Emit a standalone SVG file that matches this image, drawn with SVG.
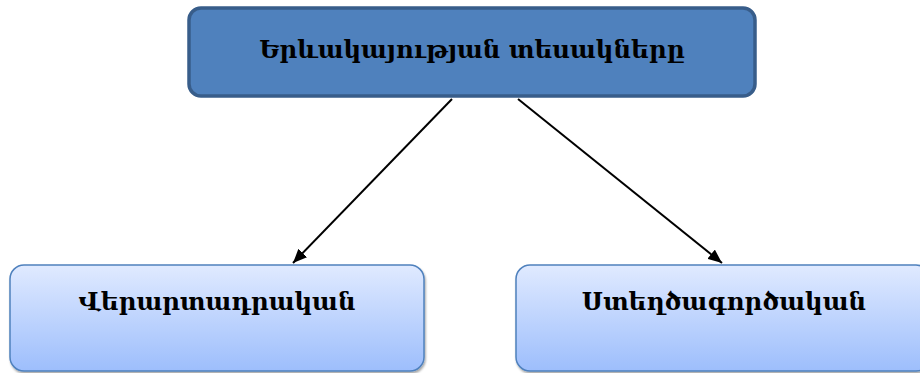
<svg xmlns="http://www.w3.org/2000/svg" width="920" height="373" viewBox="0 0 920 373">
<defs>
<linearGradient id="g" x1="0" y1="0" x2="0" y2="1">
<stop offset="0" stop-color="#E0EAFF"/>
<stop offset="1" stop-color="#9DBEFC"/>
</linearGradient>
<filter id="sh" x="-5%" y="-5%" width="110%" height="115%">
<feDropShadow dx="1" dy="2" stdDeviation="1.2" flood-color="#000" flood-opacity="0.35"/>
</filter>
<marker id="ah" viewBox="0 0 14 12" refX="14" refY="6" markerWidth="14" markerHeight="12" markerUnits="userSpaceOnUse" orient="auto">
<path d="M0,0 L14,6 L0,12 z" fill="#000"/>
</marker>
</defs>
<style>
.lbl{font-family:"DejaVu Serif","Noto Serif",serif;font-size:24.5px;font-weight:bold;fill:#000;text-anchor:middle}
.child{fill:url(#g);stroke:#4F81BD;stroke-width:1.5}
.con{stroke:#000;stroke-width:2;fill:none}
</style>
<g id="connectors">
<line class="con" x1="452" y1="99" x2="293" y2="263" marker-end="url(#ah)"/>
<line class="con" x1="518" y1="99" x2="722" y2="263" marker-end="url(#ah)"/>
</g>
<g id="root">
<rect x="189" y="8" width="566" height="88" rx="12" fill="#4F81BD" stroke="#385D8A" stroke-width="3.5"/>
<text class="lbl" x="472" y="58">Երևակայության տեսակները</text>
</g>
<g id="reproductive">
<rect class="child" x="10" y="265" width="414" height="106" rx="14" filter="url(#sh)"/>
<text class="lbl" x="217" y="310">Վերարտադրական</text>
</g>
<g id="creative">
<rect class="child" x="516" y="265" width="414" height="106" rx="14" filter="url(#sh)"/>
<text class="lbl" x="724" y="310">Ստեղծագործական</text>
</g>
</svg>
